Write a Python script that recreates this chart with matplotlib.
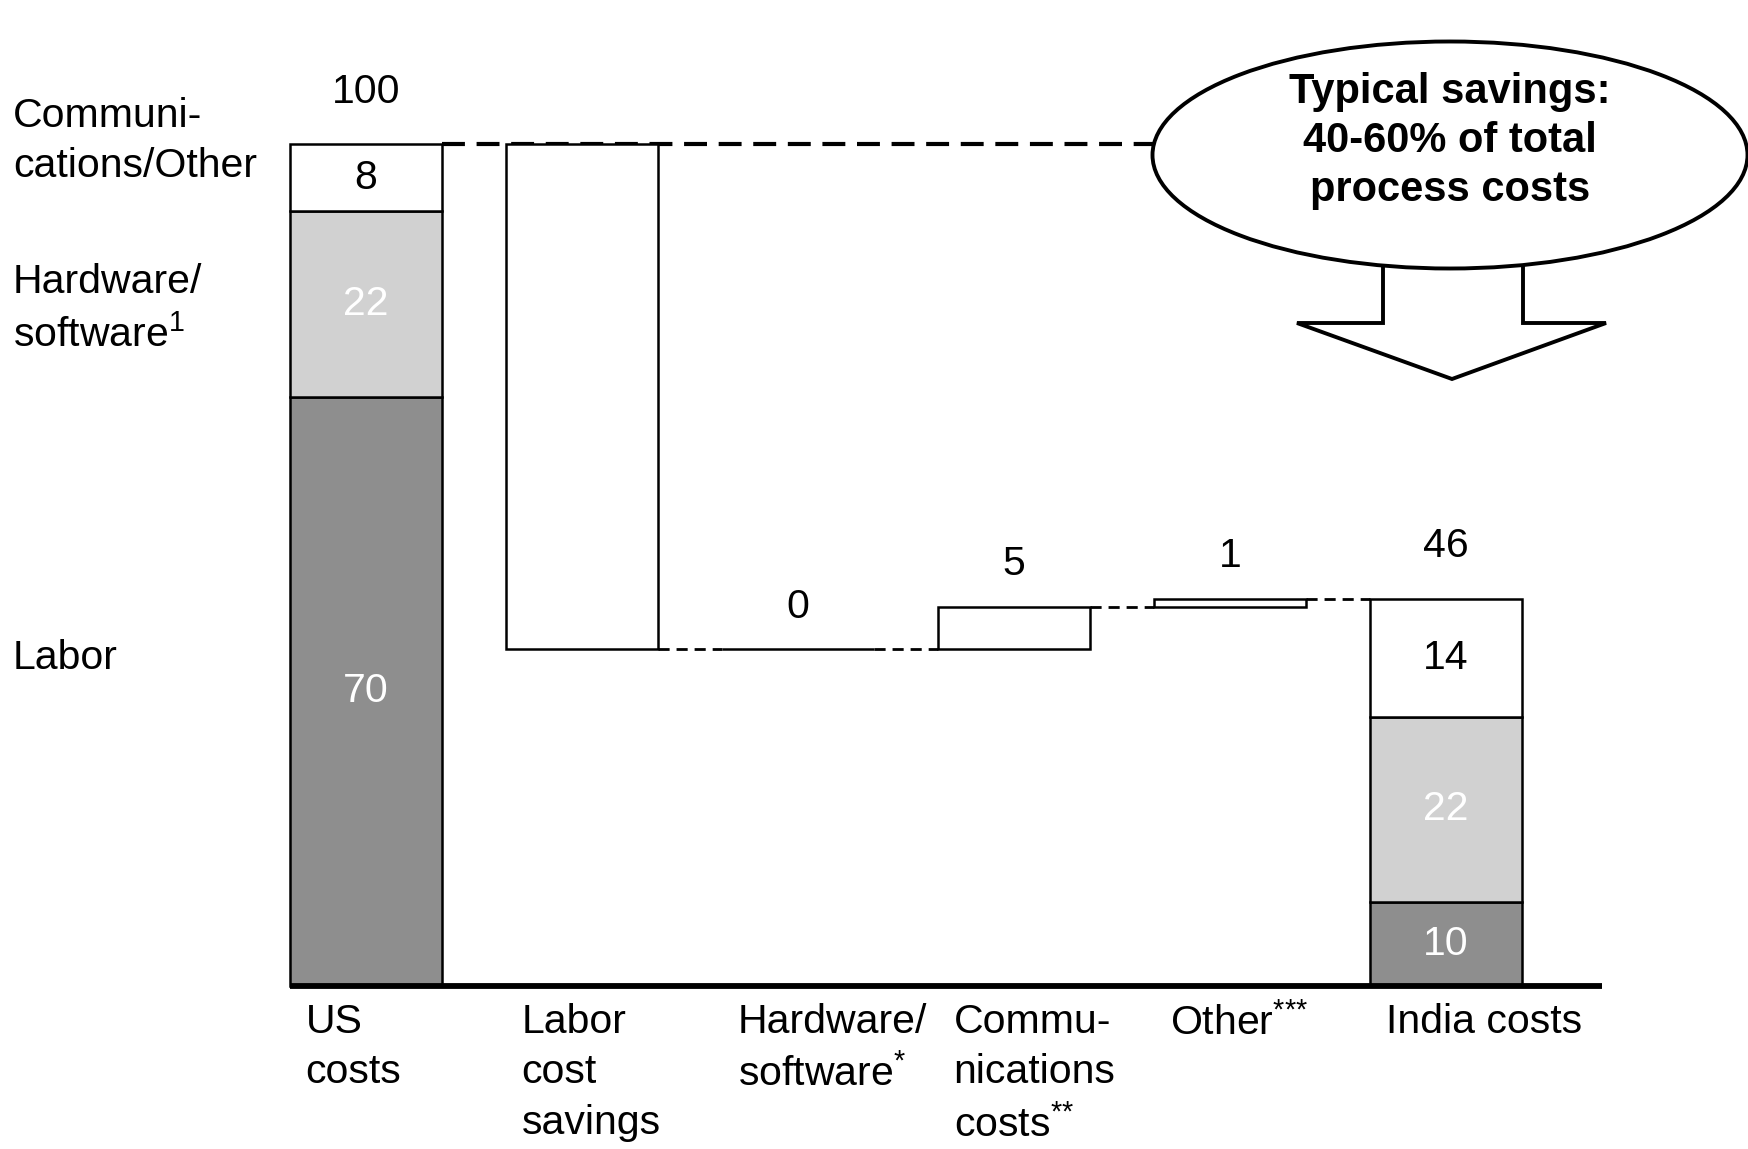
import matplotlib
matplotlib.use('Agg')
import matplotlib.pyplot as plt
from matplotlib.patches import Ellipse, Polygon
import numpy as np

plt.rcParams['font.family'] = 'Liberation Sans'
plt.rcParams['mathtext.fontset'] = 'custom'
plt.rcParams['mathtext.rm'] = 'Liberation Sans'
plt.rcParams['mathtext.it'] = 'Liberation Sans'
plt.rcParams['mathtext.bf'] = 'Liberation Sans:bold'

# Cost build-up, indexed to US costs = 100
categories = ['US\ncosts', 'Labor\ncost\nsavings', 'Hardware/\nsoftware$^{\\text{*}}$',
              'Commu-\nnications\ncosts$^{\\text{**}}$', 'Other$^{\\text{***}}$', 'India costs']
components = ['Labor', 'Hardware/\nsoftware$^{1}$', 'Communi-\ncations/Other']
us_costs = [70, 22, 8]
india_costs = [10, 22, 14]
changes = [-60, 0, 5, 1]          # labor, hardware/software, communications, other
show_change_label = [False, True, True, True]

seg_colors = ['#8e8e8e', '#d1d1d1', 'white']
seg_text_colors = ['white', 'white', 'black']

W, H = 1749, 1149
FS = 29.5
LS = 1.42


def px(x, y):
    # pixel position (from top-left) -> figure fraction
    return x / W, 1 - y / H


fig = plt.figure(figsize=(W / 100, H / 100), dpi=100)
ax = fig.add_axes([0, 0, 1, 1])
ax.set_xlim(-366 / 216, (W - 366) / 216)
ax.set_ylim(-163 / 8.42, (H - 163) / 8.42)
ax.axis('off')

x = np.arange(len(categories))
width = 0.70
edge = dict(edgecolor='black', linewidth=1.8, zorder=3)


def stacked(xpos, values):
    bottom = 0
    for v, c, tc in zip(values, seg_colors, seg_text_colors):
        ax.bar(xpos, v, width, bottom=bottom, color=c, **edge)
        ax.text(xpos, bottom + v / 2, str(v), ha='center', va='center',
                fontsize=FS, color=tc, zorder=4)
        bottom += v
    ax.annotate(str(bottom), (xpos, bottom), xytext=(0, 24), textcoords='offset points',
                ha='center', va='bottom', fontsize=FS)
    return bottom


total_us = stacked(x[0], us_costs)

# floating bars for each change
level = total_us
for i, (d, show) in enumerate(zip(changes, show_change_label), start=1):
    new = level + d
    lo = min(level, new)
    ax.bar(x[i], abs(d), width, bottom=lo, color='white', **edge)
    if i > 1:
        ax.plot([x[i - 1] + width / 2, x[i] - width / 2], [level, level], color='black',
                lw=2.0, linestyle=(0, (4, 2.5)), zorder=2)
    if show:
        ax.annotate(str(abs(d)), (x[i], max(level, new)), xytext=(0, 17),
                    textcoords='offset points', ha='center', va='bottom', fontsize=FS)
    level = new

ax.plot([x[4] + width / 2, x[5] - width / 2], [level, level], color='black',
        lw=2.0, linestyle=(0, (4, 2.5)), zorder=2)

stacked(x[5], india_costs)

# baseline
ax.plot([x[0] - width / 2, 5.72], [0, 0], color='black', lw=4.2,
        solid_capstyle='butt', zorder=5)

# category labels under the axis
for xi, lab in zip(x, categories):
    ax.text(xi - 0.28, -2.0, lab, ha='left', va='top', fontsize=FS, linespacing=LS)

# component labels on the left
ax.text(*px(13, 141), components[2], transform=fig.transFigure, ha='left', va='center',
        fontsize=FS, linespacing=LS)
ax.text(*px(13, 309), components[1], transform=fig.transFigure, ha='left', va='center',
        fontsize=FS, linespacing=LS)
ax.text(*px(13, 658), components[0], transform=fig.transFigure, ha='left', va='center',
        fontsize=FS)

# dashed guide from the US total to the savings callout
ax.plot([x[0] + width / 2, 5.0], [total_us, total_us], color='black', lw=3.0,
        linestyle=(0, (5.5, 2.8)), zorder=2)

# callout bubble with block arrow
ell = Ellipse(px(1450, 155), 595 / W, 227 / H, transform=fig.transFigure,
              facecolor='white', edgecolor='black', lw=2.8, zorder=7, clip_on=False)
ax.add_patch(ell)
arrow_pts = [px(1383, 262), px(1383, 323), px(1297, 323), px(1452, 379),
             px(1606, 323), px(1523, 323), px(1523, 262)]
ax.add_patch(Polygon(arrow_pts, closed=True, transform=fig.transFigure,
                     facecolor='white', edgecolor='black', lw=2.8, zorder=6, clip_on=False))
ax.text(*px(1450, 141), 'Typical savings:\n40-60% of total\nprocess costs',
        transform=fig.transFigure, ha='center', va='center', fontsize=30,
        fontweight='bold', linespacing=1.3, zorder=8)

fig.savefig('out.png', dpi=100)
